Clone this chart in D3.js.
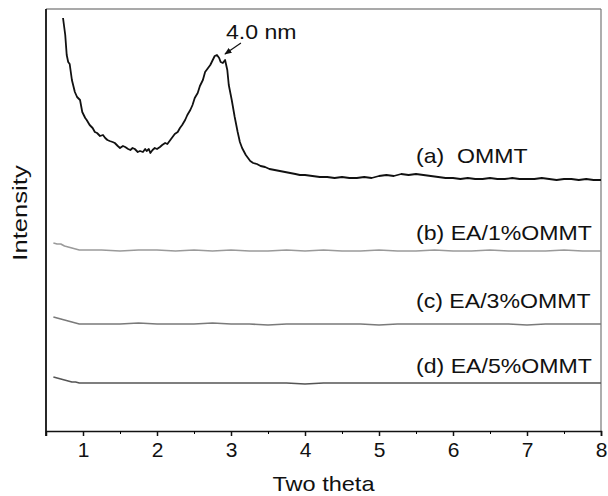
<!DOCTYPE html>
<html>
<head>
<meta charset="utf-8">
<script src="https://cdn.jsdelivr.net/npm/d3@7"></script>
<style>
  body { margin: 0; background: #fff; }
  text { font-family: "Liberation Sans", Arial, sans-serif; fill: #111; }
</style>
</head>
<body>
<div id="chart-area"></div>
<script>

// SVG Size
var width = 608,
	height = 496;

var margin = {top: 9, right: 7, bottom: 65, left: 46};

// ---- data (intensity in arbitrary units) ----

// (a) OMMT
var thetaA = [0.73, 0.76, 0.78, 0.80, 0.82, 0.85, 0.89, 0.92, 0.96, 0.99, 1.03, 1.05, 1.09, 1.13, 1.16,
	1.19, 1.23, 1.27, 1.30, 1.33, 1.36, 1.40, 1.43, 1.47, 1.50, 1.54, 1.57, 1.61, 1.64, 1.67, 1.70, 1.74,
	1.77, 1.81, 1.84, 1.86, 1.89, 1.91, 1.94, 1.97, 2.00, 2.04, 2.07, 2.11, 2.14, 2.18, 2.21, 2.24, 2.28,
	2.31, 2.34, 2.38, 2.41, 2.45, 2.48, 2.51, 2.55, 2.58, 2.62, 2.65, 2.69, 2.72, 2.74, 2.78, 2.81, 2.84,
	2.86, 2.89, 2.92, 2.95, 2.97, 3.01, 3.05, 3.09, 3.12, 3.15, 3.20, 3.26, 3.30, 3.35, 3.40, 3.46, 3.52,
	3.59, 3.66, 3.73, 3.80, 3.87, 3.93, 4.00, 4.10, 4.20, 4.30, 4.40, 4.50, 4.60, 4.70, 4.80, 4.90, 5.00,
	5.10, 5.20, 5.30, 5.40, 5.50, 5.60, 5.70, 5.80, 5.90, 6.00, 6.10, 6.20, 6.30, 6.40, 6.50, 6.60, 6.70,
	6.80, 6.90, 7.00, 7.10, 7.20, 7.30, 7.40, 7.50, 7.60, 7.70, 7.80, 7.90, 8.00];
var intensityA = [413, 396, 376, 369, 367, 351, 339, 334, 331, 319, 313, 311, 306, 303, 299,
	298, 295, 296, 293, 291, 290, 289, 288, 285, 283, 285, 284, 282, 281, 283, 282, 279,
	280, 279, 282, 280, 282, 278, 281, 283, 282, 284, 286, 288, 287, 291, 294, 297, 299,
	303, 306, 311, 316, 321, 326, 333, 338, 345, 351, 359, 363, 366, 369, 375, 376, 373,
	369, 368, 371, 361, 346, 331, 314, 299, 289, 283, 276, 270, 268, 267, 265, 264, 262,
	261, 260, 259, 258, 257, 256, 256, 255, 254, 254, 253, 254, 253, 253, 254, 253, 255,
	256, 255, 257, 256, 257, 256, 255, 254, 253, 253, 252, 253, 252, 252, 253, 252, 252,
	253, 252, 252, 252, 253, 252, 251, 252, 252, 251, 252, 251, 251];

// (b), (c), (d) share the same angles
var thetaBCD = [0.60, 0.65, 0.70, 0.75, 0.80, 0.85, 0.90, 0.95, 1.00, 1.25, 1.50, 1.75, 2.00, 2.25,
	2.50, 2.75, 3.00, 3.25, 3.50, 3.75, 4.00, 4.25, 4.50, 4.75, 5.00, 5.25, 5.50, 5.75, 6.00, 6.25,
	6.50, 6.75, 7.00, 7.25, 7.50, 7.75, 8.00];
var intensityB = [188, 187, 187, 185, 184, 183, 182, 181, 181, 181, 180, 181, 181, 180,
	181, 180, 181, 180, 180, 181, 180, 181, 180, 180, 181, 180, 180, 181, 180, 180,
	181, 180, 180, 180, 181, 180, 180];
var intensityC = [114, 113, 112, 111, 110, 109, 108, 107, 107, 107, 107, 108, 107, 107,
	107, 108, 107, 107, 106, 107, 107, 107, 107, 107, 106, 107, 107, 107, 107, 107,
	107, 107, 106, 107, 107, 107, 107];
var intensityD = [54, 53, 52, 51, 50, 49, 49, 48, 48, 48, 48, 48, 48, 48,
	48, 48, 48, 48, 48, 48, 47, 48, 48, 48, 48, 48, 48, 48, 48, 48,
	48, 48, 48, 48, 48, 48, 48];

var seriesLabels = ["(a)\u00a0\u00a0OMMT", "(b) EA/1%OMMT", "(c) EA/3%OMMT", "(d) EA/5%OMMT"];
var labelIntensity = [268, 191, 123, 58];
var seriesColors = ["#111111", "#9a9a9a", "#7a7a7a", "#555555"];

var majorTicks = [1, 2, 3, 4, 5, 6, 7, 8];
var minorTicks = [0.5, 1.5, 2.5, 3.5, 4.5, 5.5, 6.5, 7.5];

var peakLabel = "4.0 nm";
var peakTheta = 2.81,
	peakIntensity = 376;

// ---- drawing ----

var w = width - margin.left - margin.right,
	h = height - margin.top - margin.bottom;

// the original figure is a bit stretched sideways, so widen the texts
var stretch = function (sel, k) {
	sel.each(function () {
		var len = this.getComputedTextLength();
		d3.select(this).attr("textLength", len * k).attr("lengthAdjust", "spacingAndGlyphs");
	});
};

var svg = d3.select("#chart-area")
	.append("svg")
	.attr("width", width)
	.attr("height", height)
	.append("g")
	.attr("transform", "translate(" + margin.left + "," + margin.top + ")");

var x = d3.scaleLinear().domain([0.5, 8]).range([0, w]);
var y = d3.scaleLinear().domain([0, 422]).range([h, 0]);

// grey frame on top and right
svg.append("line").attr("x1", 0).attr("x2", w).attr("y1", 0).attr("y2", 0)
	.attr("stroke", "#555").attr("stroke-width", 1.2);
svg.append("line").attr("x1", w).attr("x2", w).attr("y1", 0).attr("y2", h)
	.attr("stroke", "#777").attr("stroke-width", 1.2);

var line = d3.line()
	.x(function (d) {return x(d[0])})
	.y(function (d) {return y(d[1])});

var curves = [
	d3.zip(thetaA, intensityA),
	d3.zip(thetaBCD, intensityB),
	d3.zip(thetaBCD, intensityC),
	d3.zip(thetaBCD, intensityD)
];

svg.selectAll(".curve").data(curves).enter()
	.append("path")
	.attr("class", "curve")
	.attr("d", line)
	.attr("fill", "none")
	.attr("stroke", function (d, i) {return seriesColors[i]})
	.attr("stroke-width", function (d, i) {return i == 0 ? 1.8 : 1.6})
	.attr("stroke-linejoin", "round");

// curve labels
svg.selectAll(".label").data(seriesLabels).enter()
	.append("text")
	.attr("class", "label")
	.attr("x", x(5.5))
	.attr("y", function (d, i) {return y(labelIntensity[i])})
	.attr("font-size", 21)
	.text(function (d) {return d})
	.call(stretch, 1.1);

// peak annotation
var peakX = x(peakTheta),
	peakY = y(peakIntensity);

svg.append("defs").append("marker")
	.attr("id", "arrow")
	.attr("viewBox", "0 0 10 10")
	.attr("refX", 9).attr("refY", 5)
	.attr("markerWidth", 6).attr("markerHeight", 6)
	.attr("orient", "auto")
	.append("path").attr("d", "M0,1 L10,5 L0,9 Z").attr("fill", "#111");

svg.append("line")
	.attr("x1", peakX + 24).attr("y1", peakY - 12)
	.attr("x2", peakX + 8).attr("y2", peakY - 1)
	.attr("stroke", "#111").attr("stroke-width", 1.2)
	.attr("marker-end", "url(#arrow)");

svg.append("text")
	.attr("x", peakX + 9)
	.attr("y", peakY - 16)
	.attr("font-size", 21)
	.text(peakLabel)
	.call(stretch, 1.1);

// axes
var xAxis = d3.axisBottom(x).tickValues(majorTicks).tickSize(5).tickPadding(6)
	.tickFormat(d3.format("d"));
var xMinor = d3.axisBottom(x).tickValues(minorTicks).tickSize(3).tickFormat("");

var gx = svg.append("g")
	.attr("transform", "translate(0," + h + ")")
	.call(xAxis);
svg.append("g")
	.attr("transform", "translate(0," + h + ")")
	.call(xMinor)
	.select(".domain").remove();

gx.selectAll("text").attr("font-size", 21).attr("fill", "#111");
gx.selectAll("line, path").attr("stroke", "#111").attr("stroke-width", 1.5);

svg.append("line").attr("x1", 0).attr("x2", 0).attr("y1", 0).attr("y2", h + 5)
	.attr("stroke", "#111").attr("stroke-width", 1.8);

// axis titles
svg.append("text")
	.attr("x", w / 2)
	.attr("y", h + 60)
	.attr("text-anchor", "middle")
	.attr("font-size", 21)
	.text("Two theta")
	.call(stretch, 1.12);

svg.append("text")
	.attr("transform", "translate(" + (-19) + "," + (h / 2 - 7) + ") rotate(-90)")
	.attr("text-anchor", "middle")
	.attr("font-size", 21)
	.text("Intensity")
	.call(stretch, 1.22);

</script>
</body>
</html>
